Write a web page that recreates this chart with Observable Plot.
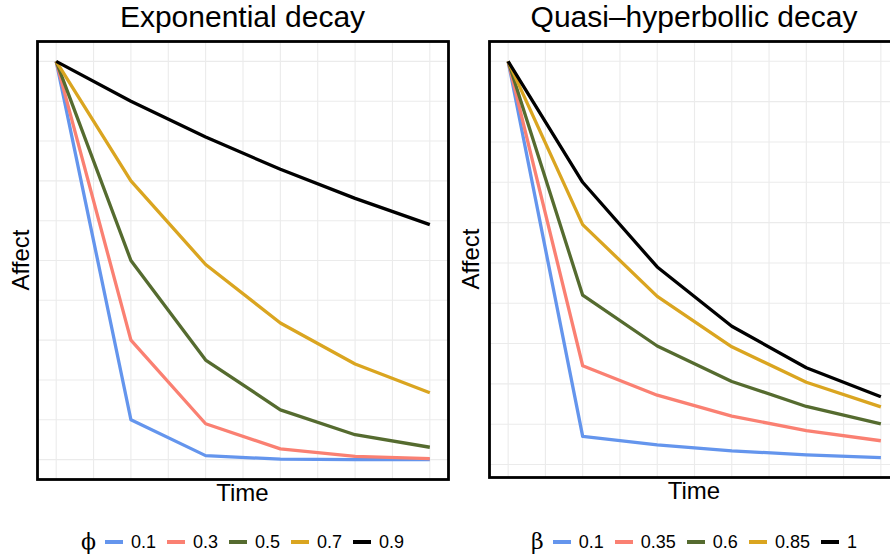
<!DOCTYPE html>
<html>
<head>
<meta charset="utf-8">
<script src="https://cdn.jsdelivr.net/npm/d3@7"></script>
<script src="https://cdn.jsdelivr.net/npm/@observablehq/plot@0.6"></script>
<style>
  html, body { margin: 0; padding: 0; background: #fff; overflow: hidden; }
  #page { position: relative; width: 890px; height: 559px; overflow: hidden; background: #fff;
          font-family: "Liberation Sans", Arial, sans-serif; color: #000; }
  .abs { position: absolute; }
  .title { font-size: 30px; line-height: 30px; text-align: center; white-space: nowrap; }
  .xlab { font-size: 24px; line-height: 24px; text-align: center; white-space: nowrap; }
  .ylab { font-size: 24px; line-height: 24px; text-align: center; white-space: nowrap; transform: rotate(-90deg); }
  .legend { display: flex; align-items: center; justify-content: center; font-size: 18px; line-height: 18px; white-space: nowrap; }
  .legend .sym { font-size: 22px; line-height: 18px; margin-right: 9px; font-family: "DejaVu Serif", serif; }
  .legend .key { width: 18px; height: 4px; margin-left: 11px; }
  .legend .key.first { margin-left: 0; }
  .legend .lab { margin-left: 8px; }
</style>
</head>
<body>
<div id="page"></div>
<script>
// ---- data ----
const times = [0, 1, 2, 3, 4, 5];

const phiLevels = ["0.1", "0.3", "0.5", "0.7", "0.9"];
const exp01 = [1, 0.1, 0.01, 0.001, 0.0001, 0.00001];
const exp03 = [1, 0.3, 0.09, 0.027, 0.008, 0.0024];
const exp05 = [1, 0.5, 0.25, 0.125, 0.0625, 0.031];
const exp07 = [1, 0.7, 0.49, 0.343, 0.24, 0.168];
const exp09 = [1, 0.9, 0.81, 0.729, 0.656, 0.59];

const betaLevels = ["0.1", "0.35", "0.6", "0.85", "1"];
const qh01  = [1, 0.07, 0.049, 0.034, 0.024, 0.017];
const qh035 = [1, 0.245, 0.172, 0.12, 0.084, 0.059];
const qh06  = [1, 0.42, 0.294, 0.206, 0.144, 0.101];
const qh085 = [1, 0.595, 0.417, 0.292, 0.204, 0.143];
const qh1   = [1, 0.7, 0.49, 0.343, 0.24, 0.168];

const lineColors = ["#6495ED", "#FA8072", "#556B2F", "#DAA520", "#000000"];

const titles = ["Exponential decay", "Quasi\u2013hyperbollic decay"];
const xTitle = "Time";
const yTitle = "Affect";
const legendSymbols = ["\u03D5", "\u03B2"];

// ---- helpers ----
function makeRows(levels, series) {
  return levels.flatMap((lv, i) => times.map((t, j) => ({t, v: series[i][j], lv})));
}

function panel(levels, series, cfg) {
  const rows = makeRows(levels, series);
  const vals = rows.map(d => d.v);
  const lo = d3.min(vals), hi = d3.max(vals), pad = (hi - lo) * 0.05;
  return Plot.plot({
    width: cfg.width,
    height: cfg.height,
    marginLeft: cfg.ml, marginRight: cfg.mr, marginTop: cfg.mt, marginBottom: cfg.mb,
    style: {background: "#fff"},
    x: {domain: [-0.25, 5.25], axis: null},
    y: {domain: [lo - pad, hi + pad], axis: null},
    color: {domain: levels, range: lineColors},
    marks: [
      Plot.gridX(d3.range(0, 5.01, 0.5), {stroke: "#ebebeb", strokeOpacity: 1, strokeWidth: 1.1}),
      Plot.gridY(d3.range(0, 1.001, 0.1), {stroke: "#ebebeb", strokeOpacity: 1, strokeWidth: 1.1}),
      Plot.line(rows, {x: "t", y: "v", z: "lv", stroke: "lv", strokeWidth: 3.3,
                       strokeLinejoin: "round", strokeLinecap: "butt"}),
      Plot.frame({stroke: "#000", strokeWidth: 2.8})
    ]
  });
}

function addDiv(cls, text, css) {
  const d = document.createElement("div");
  d.className = "abs " + cls;
  d.textContent = text;
  Object.assign(d.style, css);
  document.getElementById("page").appendChild(d);
  return d;
}

function addLegend(sym, levels, left, width, top) {
  const d = document.createElement("div");
  d.className = "abs legend";
  Object.assign(d.style, {left: left + "px", width: width + "px", top: top + "px", height: "18px"});
  const s = document.createElement("span");
  s.className = "sym"; s.textContent = sym; d.appendChild(s);
  levels.forEach((lv, i) => {
    const k = document.createElement("span");
    k.className = "key" + (i === 0 ? " first" : "");
    k.style.background = lineColors[i];
    d.appendChild(k);
    const l = document.createElement("span");
    l.className = "lab"; l.textContent = lv;
    d.appendChild(l);
  });
  document.getElementById("page").appendChild(d);
}

const page = document.getElementById("page");

// left panel: frame x 37..448, y 41..479
const leftPlot = panel(phiLevels, [exp01, exp03, exp05, exp07, exp09],
  {width: 460, height: 500, ml: 37, mr: 12, mt: 41, mb: 21});
const lw = document.createElement("div");
lw.className = "abs"; Object.assign(lw.style, {left: "0px", top: "0px", width: "460px", height: "500px"});
lw.appendChild(leftPlot); page.appendChild(lw);

// right panel: frame x 489..899 (clipped), y 41..477
const rightPlot = panel(betaLevels, [qh01, qh035, qh06, qh085, qh1],
  {width: 450, height: 500, ml: 29, mr: 11, mt: 41, mb: 23});
const rw = document.createElement("div");
rw.className = "abs"; Object.assign(rw.style, {left: "460px", top: "0px", width: "450px", height: "500px"});
rw.appendChild(rightPlot); page.appendChild(rw);

// titles
addDiv("title", titles[0], {left: "37px", width: "411px", top: "2px"});
addDiv("title", titles[1], {left: "489px", width: "410px", top: "2px"});
// x titles
addDiv("xlab", xTitle, {left: "37px", width: "411px", top: "481px"});
addDiv("xlab", xTitle, {left: "489px", width: "410px", top: "479px"});
// y titles (rotated, centered at given point)
addDiv("ylab", yTitle, {left: (20.5 - 100) + "px", width: "200px", top: (260 - 12) + "px"});
addDiv("ylab", yTitle, {left: (471 - 100) + "px", width: "200px", top: (259 - 12) + "px"});
// legends
addLegend(legendSymbols[0], phiLevels, 37, 411, 533);
addLegend(legendSymbols[1], betaLevels, 489, 410, 533);
</script>
</body>
</html>
